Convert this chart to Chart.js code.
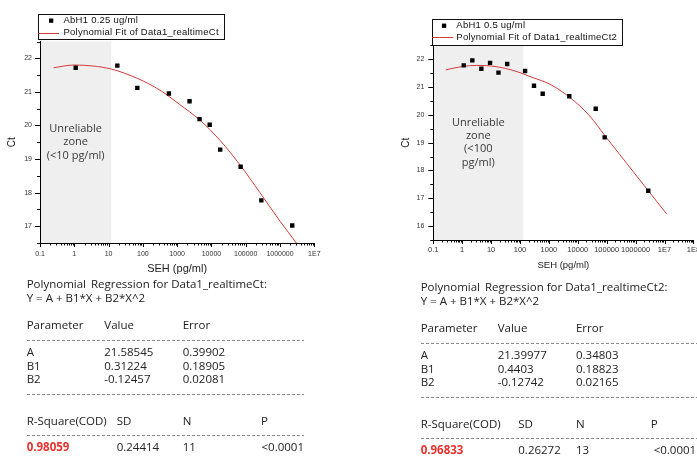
<!DOCTYPE html>
<html>
<head>
<meta charset="utf-8">
<script src="https://cdn.jsdelivr.net/npm/chart.js@4.4.1/dist/chart.umd.min.js"></script>
<style>
html, body { margin: 0; padding: 0; background: #fff; overflow: hidden; width: 697px; height: 461px; }
canvas { position: absolute; top: 0; }
#leftChart { left: 0; }
#rightChart { left: 393px; }
.report { position: absolute; font-family: "Open Sans", sans-serif; font-size: 11.5px; color: #222; }
.report div { position: absolute; white-space: pre; line-height: 14px; }
.report .dash { height: 1px; background: repeating-linear-gradient(to right, #8a8a8a 0 3px, transparent 3px 5px); }
.report .red { color: #e8322f; font-weight: bold; }
</style>
</head>
<body>
<canvas id="leftChart" width="340" height="280"></canvas>
<canvas id="rightChart" width="320" height="280"></canvas>
<div id="leftReport" class="report"></div>
<div id="rightReport" class="report"></div>
<script>
// x axis decades and their labels (log scale)
const decades = [0.1, 1, 10, 100, 1000, 10000, 100000, 1000000, 1e7, 1e8];
const decadeLabels = ['0.1', '1', '10', '100', '1000', '10000', '100000', '1000000', '1E7', '1E8'];

// left panel: AbH1 0.25 ug/ml
const leftSeh = [1.1, 18, 69, 575, 2300, 4500, 8900, 18000, 71000, 285000, 2270000];
const leftCt = [21.72, 21.78, 21.12, 20.95, 20.72, 20.19, 20.02, 19.28, 18.77, 17.77, 17.02];
const leftFitSeh = [0.25, 1, 3.5, 12, 70, 316, 1200, 4600, 18000, 71000, 260000, 1000000, 3000000];
const leftFitCt = [21.72, 21.80, 21.77, 21.68, 21.40, 21.05, 20.62, 20.16, 19.55, 18.80, 18.00, 17.15, 16.50];
const leftZoneEnd = 12;
const leftZoneLines = ['Unreliable', 'zone', '(<10 pg/ml)'];

// right panel: AbH1 0.5 ug/ml
const rightSeh = [1.13, 2.24, 4.6, 9.2, 18, 36, 150, 305, 610, 5080, 41700, 85000, 2750000];
const rightCt = [21.78, 21.96, 21.66, 21.87, 21.52, 21.83, 21.58, 21.05, 20.76, 20.67, 20.22, 19.19, 17.27];
const rightFitSeh = [0.27, 1, 3.2, 10, 32, 100, 220, 1100, 5400, 26000, 87000, 490000, 2750000, 12000000];
const rightFitCt = [21.62, 21.74, 21.78, 21.76, 21.67, 21.52, 21.38, 21.10, 20.62, 19.96, 19.25, 18.26, 17.27, 16.43];
const rightZoneEnd = 130;
const rightZoneLines = ['Unreliable', 'zone', '(<100', 'pg/ml)'];

// regression reports
const paramNames = ['A', 'B1', 'B2'];
const leftValues = ['21.58545', '0.31224', '-0.12457'];
const leftErrors = ['0.39902', '0.18905', '0.02081'];
const leftStats = ['0.98059', '0.24414', '11', '<0.0001'];
const rightValues = ['21.39977', '0.4403', '-0.12742'];
const rightErrors = ['0.34803', '0.18823', '0.02165'];
const rightStats = ['0.96833', '0.26272', '13', '<0.0001'];

const FIT_RED = '#d23c3c';

const zonePlugin = {
    id: 'zone',
    beforeDraw(chart, args, opts) {
        const { ctx, chartArea: a, scales: { x } } = chart;
        const x0 = x.getPixelForValue(x.min);
        const x1 = x.getPixelForValue(opts.end);
        ctx.save();
        ctx.fillStyle = '#efefef';
        ctx.fillRect(x0, a.top, x1 - x0, a.bottom - a.top);
        ctx.fillStyle = '#3a3a3a';
        ctx.font = '11px "Open Sans"';
        ctx.textAlign = 'center';
        ctx.textBaseline = 'middle';
        const cx = (x0 + x1) / 2, cy = (a.top + a.bottom) / 2;
        const n = opts.lines.length;
        opts.lines.forEach((s, i) => ctx.fillText(s, cx, cy + (i - (n - 1) / 2) * opts.lineHeight));
        ctx.restore();
    }
};

// Origin-style outward ticks: long on majors, short on minors
const tickMarksPlugin = {
    id: 'tickMarks',
    afterDraw(chart) {
        const { ctx, chartArea: a, scales: { x, y } } = chart;
        ctx.save();
        ctx.strokeStyle = '#000';
        ctx.lineWidth = 1;
        ctx.beginPath();
        x.ticks.forEach(t => {
            const px = Math.round(x.getPixelForValue(t.value)) + 0.5;
            ctx.moveTo(px, a.bottom);
            ctx.lineTo(px, a.bottom + (t.major ? 4 : 2.5));
        });
        y.ticks.forEach(t => {
            const py = Math.round(y.getPixelForValue(t.value)) + 0.5;
            ctx.moveTo(a.left, py);
            ctx.lineTo(a.left - (Number.isInteger(t.value) ? 5 : 3), py);
        });
        ctx.stroke();
        ctx.restore();
    }
};

const boxLegendPlugin = {
    id: 'boxLegend',
    afterDraw(chart, args, o) {
        const { ctx, chartArea: a } = chart;
        const [pts, fit] = chart.data.datasets;
        const left = a.left + o.dx;
        const top = a.top + o.dy - o.height;
        ctx.save();
        ctx.font = '9.5px Arial, "Liberation Sans"';
        ctx.letterSpacing = '0.25px';
        const w = Math.max(ctx.measureText(pts.label).width, ctx.measureText(fit.label).width);
        const width = Math.round(o.textX + w + 5);
        ctx.fillStyle = '#fff';
        ctx.fillRect(left, top, width, o.height);
        ctx.strokeStyle = '#111';
        ctx.lineWidth = 1;
        ctx.strokeRect(Math.round(left) + 0.5, Math.round(top) + 0.5, width, o.height);
        ctx.fillStyle = '#000';
        ctx.fillRect(left + o.markX - 2, top + o.row1 - 2, 4.3, 4.3);
        ctx.strokeStyle = fit.borderColor;
        ctx.beginPath();
        ctx.moveTo(left, Math.round(top + o.row2) + 0.5);
        ctx.lineTo(left + 21, Math.round(top + o.row2) + 0.5);
        ctx.stroke();
        ctx.fillStyle = '#111';
        ctx.textBaseline = 'middle';
        ctx.fillText(pts.label, left + o.textX, top + o.row1);
        ctx.fillText(fit.label, left + o.textX, top + o.row2);
        ctx.restore();
    }
};

function decadeTicks(max) {
    const ticks = [];
    decades.forEach((d, i) => {
        if (d > max) return;
        ticks.push({ value: d, major: true, text: decadeLabels[i] });
        if (d === max) return;
        for (let m = 2; m <= 9; m++) ticks.push({ value: d * m, major: false, text: '' });
    });
    return ticks;
}

function makeChart(id, c) {
    return new Chart(document.getElementById(id), {
        type: 'scatter',
        data: {
            datasets: [{
                label: c.pointLabel,
                data: c.seh.map((x, i) => ({ x, y: c.ct[i] })),
                pointStyle: 'rect',
                pointRadius: 3.1,
                borderWidth: 0,
                backgroundColor: '#000'
            }, {
                label: c.fitLabel,
                data: c.fitSeh.map((x, i) => ({ x, y: c.fitCt[i] })),
                showLine: true,
                borderColor: FIT_RED,
                borderWidth: 1,
                pointRadius: 0,
                cubicInterpolationMode: 'monotone'
            }]
        },
        options: {
            responsive: false,
            animation: false,
            events: [],
            layout: { padding: c.padding },
            plugins: {
                legend: { display: false },
                tooltip: { enabled: false },
                zone: { end: c.zoneEnd, lines: c.zoneLines, lineHeight: c.zoneLineHeight },
                boxLegend: c.legend
            },
            scales: {
                x: {
                    type: 'logarithmic',
                    min: 0.1,
                    max: c.xMax,
                    afterBuildTicks: s => { s.ticks = decadeTicks(c.xMax); },
                    afterFit: s => { s.height = c.xAxisHeight; },
                    grid: { display: false, drawTicks: false },
                    border: { color: '#000', width: 1 },
                    ticks: {
                        autoSkip: false, minRotation: 0, maxRotation: 0,
                        padding: c.xTickPad, color: '#333',
                        font: { family: 'Arial, "Liberation Sans"', size: c.xTickSize },
                        callback: (v, i, ticks) => ticks[i].text
                    },
                    title: {
                        display: true, text: 'SEH (pg/ml)', color: '#222',
                        font: { family: 'Arial, "Liberation Sans"', size: c.xTitleSize },
                        padding: { top: 0, bottom: c.xTitlePad }
                    }
                },
                y: {
                    min: c.yMin,
                    max: 22.5,
                    afterFit: s => { s.width = c.yAxisWidth; },
                    grid: { display: false, drawTicks: false },
                    border: { color: '#000', width: 1 },
                    ticks: {
                        stepSize: 0.5, autoSkip: false,
                        padding: c.yTickPad, color: '#333',
                        font: { family: 'Arial, "Liberation Sans"', size: 7 },
                        callback: v => Number.isInteger(v) ? v : ''
                    },
                    title: {
                        display: true, text: 'Ct', color: '#222',
                        font: { family: 'Arial, "Liberation Sans"', size: 10 },
                        padding: { top: c.yTitlePad, bottom: 0 }
                    }
                }
            }
        },
        plugins: [zonePlugin, tickMarksPlugin, boxLegendPlugin]
    });
}

makeChart('leftChart', {
    pointLabel: 'AbH1 0.25 ug/ml',
    fitLabel: 'Polynomial Fit of Data1_realtimeCt',
    seh: leftSeh, ct: leftCt, fitSeh: leftFitSeh, fitCt: leftFitCt,
    zoneEnd: leftZoneEnd, zoneLines: leftZoneLines, zoneLineHeight: 13.7,
    xMax: 1e7, yMin: 16.5,
    padding: { top: 41.5, right: 25.7, bottom: 0, left: 0 },
    xAxisHeight: 37, yAxisWidth: 40,
    xTickPad: 7, xTickSize: 7, xTitleSize: 11, xTitlePad: 4.4,
    yTickPad: 8, yTitlePad: 6.7,
    legend: { dx: -2, dy: -2.5, height: 25, row1: 6.5, row2: 18.8, markX: 13, textX: 25.5 }
});

makeChart('rightChart', {
    pointLabel: 'AbH1 0.5 ug/ml',
    fitLabel: 'Polynomial Fit of Data1_realtimeCt2',
    seh: rightSeh, ct: rightCt, fitSeh: rightFitSeh, fitCt: rightFitCt,
    zoneEnd: rightZoneEnd, zoneLines: rightZoneLines, zoneLineHeight: 13.3,
    xMax: 1e8, yMin: 15.5,
    padding: { top: 45.4, right: 19.6, bottom: 0, left: 0 },
    xAxisHeight: 40, yAxisWidth: 40.3,
    xTickPad: 5, xTickSize: 7.5, xTitleSize: 9.5, xTitlePad: 9.3,
    yTickPad: 9, yTitlePad: 7.7,
    legend: { dx: -1, dy: -0.5, height: 26, row1: 6.7, row2: 18.3, markX: 11.6, textX: 24 }
});

// text report under each chart
const rowTops = { title: 0, formula: 14, header: 41, dash1: 62.5, a: 68, b1: 82, b2: 95, dash2: 117.2, statHead: 137.2, dash3: 158, stats: 163.2 };

function buildReport(id, r) {
    const el = document.getElementById(id);
    el.style.left = r.x0 + 'px';
    el.style.top = r.y0 + 'px';
    const add = (text, x, y, cls) => {
        const d = document.createElement('div');
        d.textContent = text;
        d.style.left = x + 'px';
        d.style.top = y + 'px';
        if (cls) d.className = cls;
        el.appendChild(d);
        return d;
    };
    const dash = (y) => {
        const d = add('', 0, y, 'dash');
        d.style.width = r.dashWidth + 'px';
    };
    add('Polynomial\u2009 Regression for ' + r.name + ':', 0, rowTops.title);
    add('Y = A + B1*X + B2*X^2', 0, rowTops.formula);
    add('Parameter', r.cols[0], rowTops.header);
    add('Value', r.cols[1], rowTops.header);
    add('Error', r.cols[2], rowTops.header);
    dash(rowTops.dash1);
    [rowTops.a, rowTops.b1, rowTops.b2].forEach((y, i) => {
        add(paramNames[i], r.cols[0], y);
        add(r.values[i], r.cols[1], y);
        add(r.errors[i], r.cols[2], y);
    });
    dash(rowTops.dash2);
    ['R-Square(COD)', 'SD', 'N', 'P'].forEach((h, i) => add(h, r.statCols[i], rowTops.statHead));
    dash(rowTops.dash3);
    r.stats.forEach((s, i) => add(s, r.statCols[i] + (i === 3 ? r.pShift : 0), rowTops.stats, i === 0 ? 'red' : ''));
}

buildReport('leftReport', {
    name: 'Data1_realtimeCt', x0: 26.7, y0: 277, dashWidth: 277,
    cols: [0, 77.6, 156], statCols: [0, 90, 156, 234.3], pShift: 0.5,
    values: leftValues, errors: leftErrors, stats: leftStats
});

buildReport('rightReport', {
    name: 'Data1_realtimeCt2', x0: 420.7, y0: 280.3, dashWidth: 290,
    cols: [0, 77, 155.3], statCols: [0, 97.6, 155.3, 230], pShift: 3,
    values: rightValues, errors: rightErrors, stats: rightStats
});
</script>
</body>
</html>
